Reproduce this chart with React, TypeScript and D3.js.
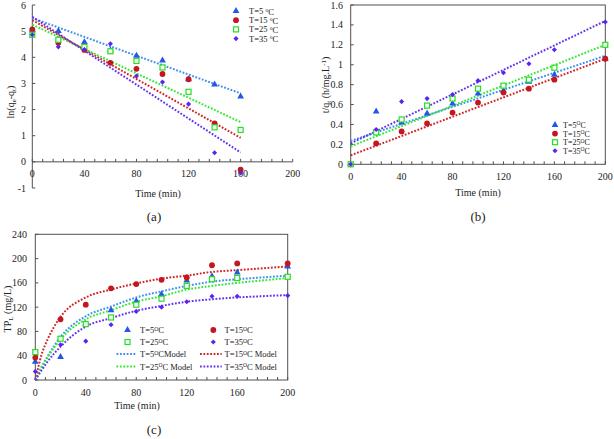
import React from "react";
import * as d3 from "d3";

// ---------- data ----------
const seriesNames = ["T=5", "T=15", "T=25", "T=35"];

// panel (a): ln(qe-qt) vs time
const timeA = [0, 20, 40, 60, 80, 100, 120, 140, 160];
const lnT5 = [5.05, 5.0, 4.58, 4.27, 4.06, 3.88, 3.16, 2.96, 2.5];
const lnT15 = [5.07, 4.56, 4.28, 3.79, 3.56, 3.36, 3.16, 1.47, -0.3];
const lnT25 = [4.86, 4.67, 4.4, 4.23, 3.86, 3.61, 2.68, 1.32, 1.22];
const lnT35 = [4.86, 4.4, 4.3, 4.52, 3.28, 3.05, 2.21, 0.35, -0.42];
const fitTimeA = [0, 160];
const fitA5 = [5.5, 2.62];
const fitA15 = [5.42, 0.92];
const fitA25 = [5.25, 1.52];
const fitA35 = [5.55, 0.36];
const xTicksA = [0, 40, 80, 120, 160, 200];
const yTicksA = [-1, 0, 1, 2, 3, 4, 5, 6];

// panel (b): t/qt vs time
const timeB = [0, 20, 40, 60, 80, 100, 120, 140, 160, 200];
const tqT5 = [0, 0.53, 0.42, 0.51, 0.61, 0.71, 0.74, 0.83, 0.9, 1.06];
const tqT15 = [0, 0.21, 0.33, 0.41, 0.52, 0.62, 0.72, 0.76, 0.85, 1.06];
const tqT25 = [0, 0.32, 0.45, 0.59, 0.66, 0.76, 0.79, 0.85, 0.97, 1.2];
const tqT35 = [0, 0.35, 0.63, 0.66, 0.7, 0.84, 0.92, 1.01, 1.15, 1.43];
const fitTimeB = [0, 200];
const fitB5 = [0.235, 1.09];
const fitB15 = [0.09, 1.06];
const fitB25 = [0.18, 1.2];
const fitB35 = [0.21, 1.44];
const xTicksB = [0, 40, 80, 120, 160, 200];
const yTicksB = [0, 0.2, 0.4, 0.6, 0.8, 1, 1.2, 1.4, 1.6];

// panel (c): TPL vs time
const timeC = [0, 20, 40, 60, 80, 100, 120, 140, 160, 200];
const tpT5 = [30, 38, 92, 115, 130, 141, 164, 171, 177, 187];
const tpT15 = [37, 100, 124, 151, 158, 165, 169, 189, 192, 192];
const tpT25 = [46, 68, 92, 103, 124, 134, 155, 166, 168, 170];
const tpT35 = [14, 58, 64, 91, 113, 120, 129, 138, 138, 139];
const modelTime = [0, 5, 10, 20, 40, 60, 80, 100, 120, 140, 160, 180, 200];
const model5 = [0, 22, 40, 71, 105, 121, 136, 146, 155, 162, 166, 169, 172];
const model15 = [0, 42, 68, 104, 136, 149, 159, 167, 172, 178, 181, 184, 187];
const model25 = [0, 20, 38, 67, 100, 115, 129, 138, 149, 155, 160, 164, 168];
const model35 = [0, 16, 31, 55, 88, 102, 114, 122, 129, 133, 136, 138, 140];
const xTicksC = [0, 40, 80, 120, 160, 200];
const yTicksC = [0, 40, 80, 120, 160, 200, 240];

// ---------- styles ----------
const markerColors = ["#2456e8", "#c4161e", "#22e022", "#5a24ee"];
const lineColors = ["#3f8ff2", "#d22424", "#35e835", "#6433ee"];
const AXIS = "#505050";
const FONT = "Liberation Serif, Times New Roman, Times, serif";
const TS = { fontFamily: FONT } as React.CSSProperties;
const minorTicks = d3.range(0, 201, 8);

function Marker({ kind, x, y }: { kind: number; x: number; y: number }) {
  const c = markerColors[kind];
  if (kind === 0) {
    return <path d={d3.symbol(d3.symbolTriangle, 20)() as string} transform={`translate(${x},${y})`} fill={c} />;
  }
  if (kind === 1) return <circle cx={x} cy={y} r={2.9} fill={c} />;
  if (kind === 2)
    return <rect x={x - 2.5} y={y - 2.5} width={5} height={5} fill="white" stroke={c} strokeWidth={1.2} />;
  return <path d={d3.symbol(d3.symbolSquare, 13)() as string} transform={`translate(${x},${y}) rotate(45)`} fill={c} />;
}

const dotted = { strokeWidth: 2, strokeDasharray: "1.8 1.6", fill: "none" };

function XAxis({ x, y0, ticks, labelY }: any) {
  return (
    <g>
      {minorTicks.map((t) => (
        <line key={"m" + t} x1={x(t)} x2={x(t)} y1={y0} y2={y0 - 3} stroke={AXIS} />
      ))}
      {ticks.map((t: number) => (
        <text key={t} x={x(t)} y={labelY} textAnchor="middle" fontSize={10} style={TS} fill="#222">
          {t}
        </text>
      ))}
    </g>
  );
}

function YAxis({ x0, y, ticks, labelX, fmt }: any) {
  return (
    <g>
      {ticks.map((t: number) => (
        <g key={t}>
          <line x1={x0} x2={x0 + 3} y1={y(t)} y2={y(t)} stroke={AXIS} />
          <text x={labelX} y={y(t) + 3.5} textAnchor="end" fontSize={10} style={TS} fill="#222">
            {fmt ? fmt(t) : t}
          </text>
        </g>
      ))}
    </g>
  );
}

export default function App() {
  const xA = d3.scaleLinear().domain([0, 200]).range([32.3, 292.7]);
  const yA = d3.scaleLinear().domain([-1, 6]).range([188, 5]);
  const dataA = [lnT5, lnT15, lnT25, lnT35];
  const fitsA = [fitA5, fitA15, fitA25, fitA35];

  const xB = d3.scaleLinear().domain([0, 200]).range([350.7, 605.3]);
  const yB = d3.scaleLinear().domain([0, 1.6]).range([164.3, 5]);
  const dataB = [tqT5, tqT15, tqT25, tqT35];
  const fitsB = [fitB5, fitB15, fitB25, fitB35];

  const xC = d3.scaleLinear().domain([0, 200]).range([35.3, 287.7]);
  const yC = d3.scaleLinear().domain([0, 240]).range([380, 234.3]);
  const dataC = [tpT5, tpT15, tpT25, tpT35];
  const models = [model5, model15, model25, model35];

  const lineGen = (x: any, y: any, xs: number[]) =>
    d3
      .line<number>()
      .x((_, i) => x(xs[i]))
      .y((d) => y(d));
  const curveGen = (x: any, y: any, xs: number[]) =>
    d3
      .line<number>()
      .x((_, i) => x(xs[i]))
      .y((d) => y(d))
      .curve(d3.curveMonotoneX);

  const fmtB = (v: number) => String(Math.round(v * 10) / 10);

  const legendText = (name: string, style: "a" | "b", extra = "") => {
    if (style === "a")
      return (
        <>
          {name + " "}
          <tspan fontSize={5.5} dy={-2.3}>o</tspan>
          <tspan dy={3}>C</tspan>
        </>
      );
    return (
      <>
        {name}
        <tspan fontSize={5.5} dy={-2.6}>O</tspan>
        <tspan dy={2.6}>C{extra}</tspan>
      </>
    );
  };

  return (
    <svg width={614} height={439} style={{ position: "absolute", left: 0, top: 0, background: "white" }}>
      <rect width={614} height={439} fill="white" />

      {/* ================= (a) ================= */}
      <g>
        <line x1={xA(0)} x2={xA(0)} y1={yA(6)} y2={yA(-1)} stroke={AXIS} />
        <line x1={xA(0)} x2={xA(200)} y1={yA(0)} y2={yA(0)} stroke={AXIS} />
        <XAxis x={xA} y0={yA(0)} ticks={xTicksA} labelY={177} />
        <YAxis x0={xA(0)} y={yA} ticks={yTicksA} labelX={26} />
        {fitsA.map((f, i) => (
          <path key={"fa" + i} d={lineGen(xA, yA, fitTimeA)(f) as string} stroke={lineColors[i]} {...dotted} />
        ))}
        {dataA.map((s, k) =>
          s.map((v, i) => <Marker key={`a${k}-${i}`} kind={k} x={xA(timeA[i])} y={yA(v)} />)
        )}
        <text x={158} y={197} textAnchor="middle" fontSize={10} style={TS} fill="#222">
          Time (min)
        </text>
        <text transform="translate(14,102) rotate(-90)" textAnchor="middle" fontSize={10} style={TS} fill="#222">
          ln(q<tspan fontSize={7} dy={2}>e</tspan>
          <tspan dy={-2}>-q</tspan>
          <tspan fontSize={7} dy={2}>t</tspan>
          <tspan dy={-2}>)</tspan>
        </text>
        {seriesNames.map((n, i) => (
          <g key={"la" + i}>
            <Marker kind={i} x={236} y={11 + i * 9.2} />
            <text x={249} y={11 + i * 9.2 + 3} fontSize={8.5} style={TS} fill="#222">
              {legendText(n, "a")}
            </text>
          </g>
        ))}
        <text x={154} y={221} textAnchor="middle" fontSize={13} style={TS} fill="#222">
          (a)
        </text>
      </g>

      {/* ================= (b) ================= */}
      <g>
        <rect x={xB(0)} y={yB(1.6)} width={xB(200) - xB(0)} height={yB(0) - yB(1.6)} fill="none" stroke={AXIS} />
        <XAxis x={xB} y0={yB(0)} ticks={xTicksB} labelY={180} />
        <YAxis x0={xB(0)} y={yB} ticks={yTicksB} labelX={343} fmt={fmtB} />
        {fitsB.map((f, i) => (
          <path key={"fb" + i} d={lineGen(xB, yB, fitTimeB)(f) as string} stroke={lineColors[i]} {...dotted} />
        ))}
        {dataB.map((s, k) =>
          s.map((v, i) => <Marker key={`b${k}-${i}`} kind={k} x={xB(timeB[i])} y={yB(v)} />)
        )}
        <text x={478} y={196} textAnchor="middle" fontSize={10} style={TS} fill="#222">
          Time (min)
        </text>
        <text transform="translate(329,85) rotate(-90)" textAnchor="middle" fontSize={10} style={TS} fill="#222">
          t/q<tspan fontSize={7} dy={2}>t</tspan>
          <tspan dy={-2}> (h/mg.L</tspan>
          <tspan fontSize={7} dy={-3}>-1</tspan>
          <tspan dy={3}>)</tspan>
        </text>
        {seriesNames.map((n, i) => (
          <g key={"lb" + i}>
            <Marker kind={i} x={555} y={125 + i * 8.6} />
            <text x={563} y={125 + i * 8.6 + 3} fontSize={8} style={TS} fill="#222">
              {legendText(n, "b")}
            </text>
          </g>
        ))}
        <text x={478} y={221} textAnchor="middle" fontSize={13} style={TS} fill="#222">
          (b)
        </text>
      </g>

      {/* ================= (c) ================= */}
      <g>
        <rect x={xC(0)} y={yC(240)} width={xC(200) - xC(0)} height={yC(0) - yC(240)} fill="none" stroke={AXIS} />
        <XAxis x={xC} y0={yC(0)} ticks={xTicksC} labelY={396} />
        <YAxis x0={xC(0)} y={yC} ticks={yTicksC} labelX={27} />
        {models.map((m, i) => (
          <path key={"mc" + i} d={curveGen(xC, yC, modelTime)(m) as string} stroke={lineColors[i]} {...dotted} />
        ))}
        {dataC.map((s, k) =>
          s.map((v, i) => <Marker key={`c${k}-${i}`} kind={k} x={xC(timeC[i])} y={yC(v)} />)
        )}
        <text x={137} y={409} textAnchor="middle" fontSize={10} style={TS} fill="#222">
          Time (min)
        </text>
        <text transform="translate(11,309) rotate(-90)" textAnchor="middle" fontSize={10} style={TS} fill="#222">
          TP<tspan fontSize={7} dy={2}>L</tspan>
          <tspan dy={-2}> (mg/L)</tspan>
        </text>
        {seriesNames.map((n, i) => {
          const col = i % 2;
          const row = Math.floor(i / 2);
          const mx = col === 0 ? 127.5 : 213.3;
          const tx = col === 0 ? 140 : 224.5;
          const y = 330 + row * 12;
          return (
            <g key={"lc" + i}>
              <Marker kind={i} x={mx} y={y} />
              <text x={tx} y={y + 3.2} fontSize={8.5} style={TS} fill="#222">
                {legendText(n, "b")}
              </text>
            </g>
          );
        })}
        {seriesNames.map((n, i) => {
          const col = i % 2;
          const row = Math.floor(i / 2);
          const x1 = col === 0 ? 116.5 : 200;
          const x2 = col === 0 ? 136.5 : 221.7;
          const tx = col === 0 ? 140 : 224.5;
          const y = 354 + row * 12.5;
          return (
            <g key={"lm" + i}>
              <line x1={x1} x2={x2} y1={y} y2={y} stroke={lineColors[i]} {...dotted} />
              <text x={tx} y={y + 3.2} fontSize={8.5} style={TS} fill="#222">
                {legendText(n, "b", col === 0 && row === 0 ? "Model" : " Model")}
              </text>
            </g>
          );
        })}
        <text x={154} y={434} textAnchor="middle" fontSize={13} style={TS} fill="#222">
          (c)
        </text>
      </g>
    </svg>
  );
}
